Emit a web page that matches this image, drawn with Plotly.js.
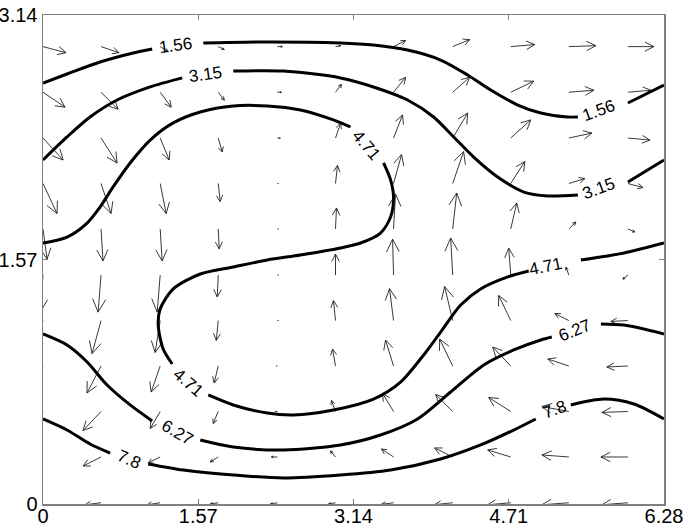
<!DOCTYPE html>
<html>
<head>
<meta charset="utf-8">
<script src="https://cdn.plot.ly/plotly-3.0.1.min.js"></script>
<style>body{margin:0;background:#fff}</style>
</head>
<body>
<div id="plot" style="width:688px;height:532px"></div>
<script>
// axis ticks
const xTicks = [0, 1.57, 3.14, 4.71, 6.28];
const yTicks = [0, 1.57, 3.14];

// quiver grid (arrow tails), bottom row first
const gridX = [0, 0.587, 1.185, 1.772, 2.37, 2.958, 3.545, 4.143, 4.73, 5.318, 5.915];
const gridY = [0.008, 0.302, 0.594, 0.886, 1.178, 1.47, 1.766, 2.058, 2.35, 2.644, 2.937];

// arrow components as drawn (data units), one row per gridY
const quiverU = [
  [-0.182, -0.162, -0.132, -0.081, -0.071, -0.071, -0.122, -0.182, -0.233, -0.273, -0.263],
  [-0.182, -0.182, -0.122, -0.081, -0.061, -0.051, -0.122, -0.182, -0.233, -0.273, -0.273],
  [-0.182, -0.182, -0.101, -0.051, -0.02, -0.041, -0.111, -0.172, -0.223, -0.273, -0.263],
  [-0.142, -0.142, -0.091, -0.041, -0.01, -0.03, -0.081, -0.132, -0.182, -0.213, -0.213],
  [-0.091, -0.091, -0.051, -0.02, 0.01, -0.02, -0.041, -0.081, -0.122, -0.142, -0.172],
  [-0.03, -0.03, -0.03, -0.01, 0.01, 0, -0.01, -0.02, -0.02, -0.03, -0.051],
  [0.041, 0.02, 0.02, 0.01, 0.01, 0.01, 0.02, 0.041, 0.061, 0.071, 0.071],
  [0.142, 0.101, 0.061, 0.02, 0.01, 0.02, 0.081, 0.111, 0.142, 0.162, 0.152],
  [0.203, 0.162, 0.091, 0.041, 0.03, 0.051, 0.091, 0.152, 0.203, 0.233, 0.223],
  [0.223, 0.172, 0.111, 0.061, 0.041, 0.061, 0.122, 0.172, 0.233, 0.253, 0.233],
  [0.233, 0.182, 0.081, 0.061, 0.051, 0.051, 0.122, 0.172, 0.243, 0.273, 0.263]
];
const quiverV = [
  [-0.013, -0.013, -0.013, -0.008, -0.008, -0.008, -0.01, -0.012, -0.013, -0.013, -0.013],
  [-0.058, -0.058, -0.039, -0.032, 0, 0.039, 0.051, 0.058, 0.045, 0.013, 0],
  [-0.122, -0.122, -0.109, -0.077, 0, 0.071, 0.116, 0.109, 0.09, 0.032, -0.006],
  [-0.173, -0.173, -0.167, -0.109, 0, 0.109, 0.167, 0.173, 0.122, 0.045, -0.006],
  [-0.212, -0.212, -0.205, -0.128, 0, 0.128, 0.205, 0.218, 0.161, 0.045, -0.006],
  [-0.238, -0.238, -0.238, -0.141, 0, 0.135, 0.231, 0.238, 0.173, 0.051, -0.026],
  [-0.193, -0.205, -0.205, -0.128, 0, 0.135, 0.225, 0.231, 0.167, 0.045, -0.019],
  [-0.193, -0.193, -0.193, -0.116, 0, 0.116, 0.186, 0.205, 0.141, 0.032, -0.026],
  [-0.141, -0.161, -0.141, -0.09, 0, 0.096, 0.148, 0.161, 0.116, 0.032, -0.013],
  [-0.096, -0.109, -0.096, -0.051, 0, 0.051, 0.096, 0.096, 0.071, 0.013, 0.013],
  [-0.039, -0.039, -0.032, -0.019, 0, 0.006, 0.039, 0.045, 0.013, 0.006, 0]
];

// contour lines (null = gap left for the label)
const c156x = [0, 0.243, 0.577, 0.912, 1.104, null, 1.621, 2.269, 3.008, 3.342, 3.687, 4.021, 4.294, 4.528, 4.801, 5.034, 5.307, 5.409, null, 5.915, 6.28];
const c156y = [2.703, 2.761, 2.838, 2.896, 2.922, null, 2.96, 2.967, 2.96, 2.947, 2.915, 2.851, 2.755, 2.658, 2.562, 2.511, 2.485, 2.485, null, 2.575, 2.69];
const c315x = [0, 0.243, 0.476, 0.75, 1.084, 1.408, null, 1.924, 2.431, 3.008, 3.342, 3.687, 3.95, 4.153, 4.355, 4.598, 4.862, 5.105, 5.409, null, 5.915, 6.28];
const c315y = [2.209, 2.357, 2.485, 2.594, 2.678, 2.736, null, 2.78, 2.78, 2.736, 2.678, 2.594, 2.485, 2.357, 2.228, 2.1, 2.003, 1.978, 1.984, null, 2.068, 2.209];
const c471x = [0, 0.243, 0.446, 0.577, 0.709, 0.881, 1.084, 1.317, 1.59, 1.924, 2.269, 2.603, 2.937, 3.109, null,
  3.444, 3.515, 3.545, 3.515, 3.413, 3.211, 3.008, 2.603, 2.269, 1.924, 1.59, 1.317, 1.185, 1.165, 1.215, 1.307, null,
  1.671, 1.924, 2.269, 2.532, 2.937, 3.342, 3.616, 3.849, 4.021, 4.224, 4.426, 4.7, 4.912, null, 5.439, 5.875, 6.28];
const c471y = [1.676, 1.714, 1.804, 1.907, 2.036, 2.19, 2.337, 2.447, 2.517, 2.556, 2.556, 2.53, 2.466, 2.421, null,
  2.19, 2.081, 1.971, 1.843, 1.74, 1.676, 1.644, 1.599, 1.567, 1.522, 1.477, 1.381, 1.252, 1.149, 0.995, 0.899, null,
  0.7, 0.636, 0.584, 0.572, 0.604, 0.674, 0.783, 0.957, 1.104, 1.278, 1.381, 1.458, 1.496, null, 1.567, 1.612, 1.676];
const c627x = [0, 0.243, 0.446, 0.648, 0.881, 1.104, null, 1.59, 1.924, 2.431, 3.008, 3.413, 3.788, 4.122, 4.457, 4.76, 5.034, 5.145, null, 5.642, 5.875, 6.28];
const c627y = [1.092, 1.021, 0.912, 0.764, 0.636, 0.533, null, 0.411, 0.366, 0.347, 0.379, 0.443, 0.546, 0.719, 0.893, 0.989, 1.053, 1.072, null, 1.156, 1.149, 1.092];
const c78x = [0, 0.243, 0.476, 0.679, null, 1.064, 1.418, 1.924, 2.431, 3.008, 3.515, 4.021, 4.426, 4.76, 4.983, null, 5.338, 5.672, 5.976, 6.28];
const c78y = [0.546, 0.475, 0.385, 0.327, null, 0.257, 0.218, 0.186, 0.167, 0.186, 0.218, 0.289, 0.379, 0.475, 0.546, null, 0.636, 0.674, 0.642, 0.546];

// contour labels
const labelText = ['1.56', '3.15', '4.71', '1.56', '3.15', '4.71', '4.71', '6.27', '6.27', '7.8', '7.8'];
const labelX = [1.337, 1.641, 3.272, 5.621, 5.621, 5.085, 1.469, 1.357, 5.378, 0.871, 5.176];
const labelY = [2.947, 2.755, 2.305, 2.53, 2.029, 1.528, 0.783, 0.462, 1.117, 0.283, 0.604];
const labelAngle = [-8, -8, 50, -20, -20, -12, 41, 30, -22, 24, -20];

// build quiver segments: shaft + open head, head shaped in pixel space
const PX = 620 / 6.28, PY = 489 / 3.14;
const qx = [], qy = [];
gridY.forEach(function (y0, i) {
  gridX.forEach(function (x0, j) {
    const u = quiverU[i][j], v = quiverV[i][j];
    const x1 = x0 + u, y1 = y0 + v;
    const hx = 0.35 * u * PX, hy = 0.35 * v * PY;
    const wx = -0.5 * hy, wy = 0.5 * hx;
    qx.push(x0, x1, null, x1 - (hx + wx) / PX, x1, x1 - (hx - wx) / PX, null);
    qy.push(y0, y1, null, y1 - (hy + wy) / PY, y1, y1 - (hy - wy) / PY, null);
  });
});

const contourLine = {color: '#000', width: 3, shape: 'spline', smoothing: 0.8};
const traces = [
  {x: qx, y: qy, mode: 'lines', line: {color: '#222', width: 0.9}, hoverinfo: 'skip'},
  {x: c156x, y: c156y, mode: 'lines', line: contourLine},
  {x: c315x, y: c315y, mode: 'lines', line: contourLine},
  {x: c471x, y: c471y, mode: 'lines', line: contourLine},
  {x: c627x, y: c627y, mode: 'lines', line: contourLine},
  {x: c78x, y: c78y, mode: 'lines', line: contourLine}
];

const labels = labelText.map(function (t, i) {
  return {x: labelX[i], y: labelY[i], text: t, textangle: labelAngle[i], showarrow: false,
    font: {family: 'Liberation Sans, Arial, sans-serif', size: 17, color: '#000'}};
});

const axisStyle = {
  ticks: 'inside', ticklen: 5, tickcolor: '#808080', tickwidth: 1,
  showline: true, linecolor: '#808080', linewidth: 1.5, mirror: 'ticks',
  showgrid: false, zeroline: false,
  tickfont: {family: 'Liberation Sans, Arial, sans-serif', size: 20, color: '#000'}
};

const layout = {
  width: 688, height: 532,
  margin: {l: 43, r: 24, t: 15, b: 28},
  paper_bgcolor: '#fff', plot_bgcolor: '#fff',
  showlegend: false,
  xaxis: Object.assign({range: [0, 6.28], tickvals: xTicks, ticktext: xTicks.map(String)}, axisStyle, {ticklabelstandoff: -7}),
  yaxis: Object.assign({range: [0, 3.14], tickvals: yTicks, ticktext: yTicks.map(String)}, axisStyle),
  annotations: labels
};

Plotly.newPlot('plot', traces, layout, {displayModeBar: false, staticPlot: true});
</script>
</body>
</html>
